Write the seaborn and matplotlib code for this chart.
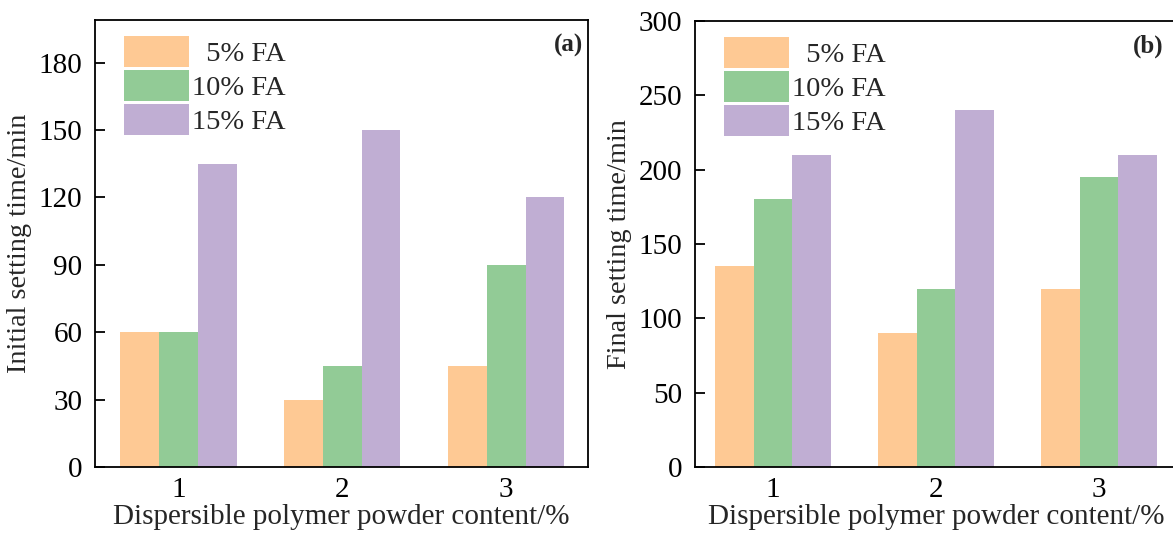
import matplotlib
matplotlib.use("Agg")
import matplotlib.pyplot as plt
import seaborn as sns
import pandas as pd

contents = ["1", "2", "3"]
series = ["5% FA", "10% FA", "15% FA"]
legend_labels = ["  5% FA", "10% FA", "15% FA"]
initial_5 = [60, 30, 45]
initial_10 = [60, 45, 90]
initial_15 = [135, 150, 120]
final_5 = [135, 90, 120]
final_10 = [180, 120, 195]
final_15 = [210, 240, 210]
colors = ["#FEC994", "#92CB96", "#C0AED3"]

sns.set_theme(style="ticks")
plt.rcParams["font.family"] = ["Liberation Serif", "DejaVu Serif"]


def make_df(a, b, c):
    rows = []
    for s, vals in zip(series, [a, b, c]):
        for x, v in zip(contents, vals):
            rows.append({"content": x, "fa": s, "time": v})
    return pd.DataFrame(rows)


df_a = make_df(initial_5, initial_10, initial_15)
df_b = make_df(final_5, final_10, final_15)

fig = plt.figure(figsize=(11.73, 5.34), dpi=100)
ax1 = fig.add_axes([0.081, 0.1255, 0.4203, 0.837])
ax2 = fig.add_axes([0.5925, 0.1255, 0.4200, 0.835])


def draw(ax, df, ylabel, ymax, yticks, tag, tag_x, xlim, xlabel_x):
    sns.barplot(data=df, x="content", y="time", hue="fa", palette=colors,
                hue_order=series, order=contents, width=0.71, saturation=1,
                linewidth=0, ax=ax, errorbar=None)
    ax.set_ylim(0, ymax)
    ax.set_xlim(*xlim)
    ax.set_yticks(yticks)
    ax.set_ylabel(ylabel, fontsize=20.3, labelpad=5)
    ax.set_xlabel("Dispersible polymer powder content/%", fontsize=21, labelpad=1)
    ax.xaxis.label.set_x(xlabel_x)
    ax.tick_params(axis="both", direction="in", length=7, width=1.3,
                   labelsize=21, color="black", labelcolor="black")
    ax.tick_params(axis="y", pad=9)
    ax.tick_params(axis="x", pad=7)
    for sp in ax.spines.values():
        sp.set_visible(True)
        sp.set_linewidth(1.3)
        sp.set_color("black")
    handles, _ = ax.get_legend_handles_labels()
    ax.legend(handles, legend_labels, loc="upper left", frameon=False,
              fontsize=20.5, handlelength=2.3, handleheight=1.3,
              labelspacing=0.1, handletextpad=0.1,
              borderaxespad=0.0, bbox_to_anchor=(0.035, 0.99))
    ax.text(tag_x, 0.97, tag, transform=ax.transAxes, ha="right", va="top",
            fontsize=18, fontweight="bold")


draw(ax1, df_a, "Initial setting time/min", 199, [0, 30, 60, 90, 120, 150, 180],
     "(a)", 0.99, (-0.51, 2.50), 0.5)
draw(ax2, df_b, "Final setting time/min", 300, [0, 50, 100, 150, 200, 250, 300],
     "(b)", 0.95, (-0.48, 2.545), 0.489)

fig.savefig("out.png", dpi=100)
